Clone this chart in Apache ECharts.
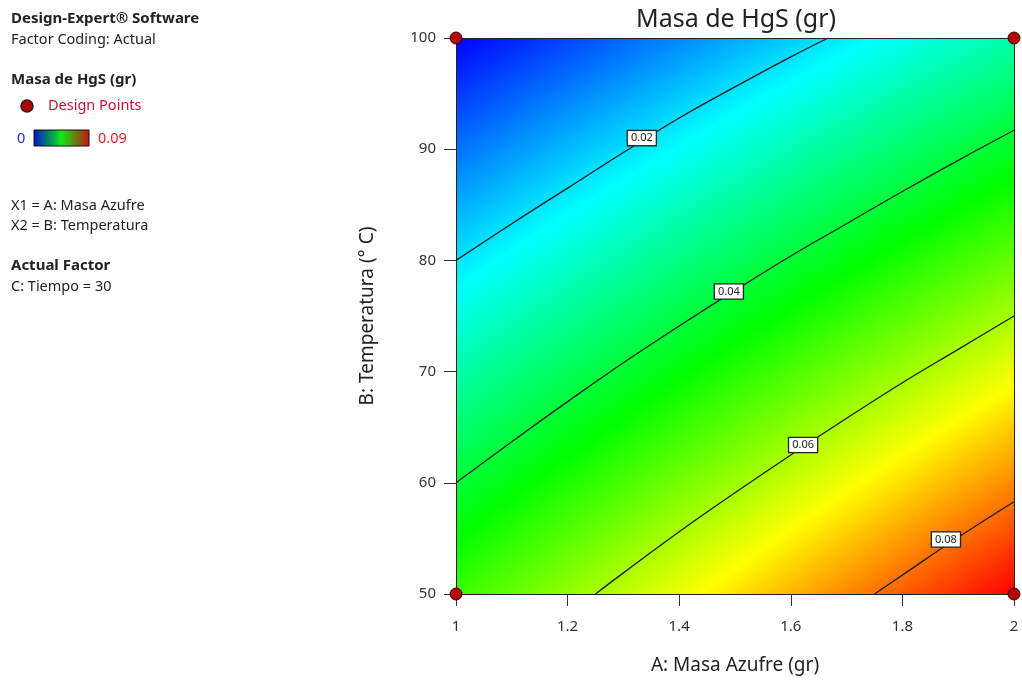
<!DOCTYPE html>
<html>
<head>
<meta charset="utf-8">
<script src="https://cdn.jsdelivr.net/npm/echarts@6/dist/echarts.min.js"></script>
<style>
html,body{margin:0;padding:0;background:#fff;}
#chart{width:1022px;height:681px;}
</style>
</head>
<body>
<div id="chart"></div>
<script>
// ---- data ----
const xNodes = [1, 1.1, 1.2, 1.3, 1.4, 1.5, 1.6, 1.7, 1.8, 1.9, 2];
const yNodes = [50, 55, 60, 65, 70, 75, 80, 85, 90, 95, 100];
// response (Masa de HgS, gr) at [yNodes[j]][xNodes[i]]
const z50  = [0.0500, 0.0540, 0.0580, 0.0620, 0.0660, 0.0700, 0.0740, 0.0780, 0.0820, 0.0860, 0.0900];
const z55  = [0.0450, 0.0489, 0.0528, 0.0567, 0.0606, 0.0645, 0.0684, 0.0723, 0.0762, 0.0801, 0.0840];
const z60  = [0.0400, 0.0438, 0.0476, 0.0514, 0.0552, 0.0590, 0.0628, 0.0666, 0.0704, 0.0742, 0.0780];
const z65  = [0.0350, 0.0387, 0.0424, 0.0461, 0.0498, 0.0535, 0.0572, 0.0609, 0.0646, 0.0683, 0.0720];
const z70  = [0.0300, 0.0336, 0.0372, 0.0408, 0.0444, 0.0480, 0.0516, 0.0552, 0.0588, 0.0624, 0.0660];
const z75  = [0.0250, 0.0285, 0.0320, 0.0355, 0.0390, 0.0425, 0.0460, 0.0495, 0.0530, 0.0565, 0.0600];
const z80  = [0.0200, 0.0234, 0.0268, 0.0302, 0.0336, 0.0370, 0.0404, 0.0438, 0.0472, 0.0506, 0.0540];
const z85  = [0.0150, 0.0183, 0.0216, 0.0249, 0.0282, 0.0315, 0.0348, 0.0381, 0.0414, 0.0447, 0.0480];
const z90  = [0.0100, 0.0132, 0.0164, 0.0196, 0.0228, 0.0260, 0.0292, 0.0324, 0.0356, 0.0388, 0.0420];
const z95  = [0.0050, 0.0081, 0.0112, 0.0143, 0.0174, 0.0205, 0.0236, 0.0267, 0.0298, 0.0329, 0.0360];
const z100 = [0.0000, 0.0030, 0.0060, 0.0090, 0.0120, 0.0150, 0.0180, 0.0210, 0.0240, 0.0270, 0.0300];
const zRows = [z50, z55, z60, z65, z70, z75, z80, z85, z90, z95, z100];

// contour lines
const c002 = [[1, 80], [1.1, 83.3], [1.2, 86.5], [1.3, 89.7], [1.4, 92.8], [1.5, 95.6], [1.6, 98.3], [1.667, 100]];
const c004 = [[1, 60], [1.1, 63.7], [1.2, 67.3], [1.3, 70.8], [1.4, 74.1], [1.5, 77.3], [1.6, 80.4], [1.7, 83.3], [1.8, 86.2], [1.9, 89.0], [2, 91.7]];
const c006 = [[1.25, 50], [1.3, 51.9], [1.4, 55.6], [1.5, 59.1], [1.6, 62.5], [1.7, 65.8], [1.8, 69.0], [1.9, 72.0], [2, 75.0]];
const c008 = [[1.75, 50], [1.8, 51.7], [1.9, 55.1], [2, 58.3]];
const contourLabels = [[1.333, 91.0, '0.02'], [1.489, 77.2, '0.04'], [1.622, 63.4, '0.06'], [1.878, 54.9, '0.08']];
const designPoints = [[1, 50], [2, 50], [1, 100], [2, 100]];
const xTicks = ['1', '1.2', '1.4', '1.6', '1.8', '2'];
const yTicks = ['50', '60', '70', '80', '90', '100'];

// colour ramp (style)
const ramp = [[0, [0, 0, 255]], [0.0225, [0, 255, 255]], [0.045, [0, 255, 0]], [0.0675, [255, 255, 0]], [0.09, [255, 0, 0]]];
function colorAt(v) {
  if (v <= ramp[0][0]) return 'rgb(' + ramp[0][1].join(',') + ')';
  for (let k = 1; k < ramp.length; k++) {
    if (v <= ramp[k][0]) {
      const t = (v - ramp[k - 1][0]) / (ramp[k][0] - ramp[k - 1][0]);
      const a = ramp[k - 1][1], b = ramp[k][1];
      return 'rgb(' + [0, 1, 2].map(c => Math.round(a[c] + (b[c] - a[c]) * t)).join(',') + ')';
    }
  }
  return 'rgb(' + ramp[ramp.length - 1][1].join(',') + ')';
}

const cells = [];
for (let j = 0; j < yNodes.length - 1; j++) {
  for (let i = 0; i < xNodes.length - 1; i++) {
    cells.push([xNodes[i], yNodes[j], xNodes[i + 1], yNodes[j + 1],
      zRows[j][i], zRows[j][i + 1], zRows[j + 1][i], zRows[j + 1][i + 1]]);
  }
}

function renderCell(params, api) {
  const p0 = api.coord([api.value(0), api.value(1)]);
  const p1 = api.coord([api.value(2), api.value(3)]);
  const f00 = api.value(4), f10 = api.value(5), f01 = api.value(6), f11 = api.value(7);
  const w = p1[0] - p0[0], h = p1[1] - p0[1];
  const gx = ((f10 - f00) + (f11 - f01)) / 2 / w;
  const gy = ((f01 - f00) + (f11 - f10)) / 2 / h;
  const fc = (f00 + f10 + f01 + f11) / 4;
  const cx = (p0[0] + p1[0]) / 2, cy = (p0[1] + p1[1]) / 2;
  const g = Math.hypot(gx, gy) || 1e-12;
  const dx = gx / g, dy = gy / g;
  const ext = Math.abs(w) / 2 * Math.abs(dx) + Math.abs(h) / 2 * Math.abs(dy);
  const vA = fc - g * ext, vB = fc + g * ext;
  const stops = [{offset: 0, color: colorAt(vA)}];
  ramp.forEach(r => {
    if (r[0] > vA && r[0] < vB) stops.push({offset: (r[0] - vA) / (vB - vA), color: colorAt(r[0])});
  });
  stops.push({offset: 1, color: colorAt(vB)});
  return {
    type: 'rect',
    shape: {x: Math.min(p0[0], p1[0]) - 0.5, y: Math.min(p0[1], p1[1]) - 0.5, width: Math.abs(w) + 1, height: Math.abs(h) + 1},
    style: {fill: new echarts.graphic.LinearGradient(cx - dx * ext, cy - dy * ext, cx + dx * ext, cy + dy * ext, stops, true)}
  };
}

const FONT = '"Noto Sans", "Open Sans", sans-serif';
const txt = '#222';
function T(x, y, s, opts) {
  return Object.assign({type: 'text', x: x, y: y, style: Object.assign({text: s, font: '14.5px ' + FONT, fill: txt, verticalAlign: 'middle'}, opts || {})});
}

const chart = echarts.init(document.getElementById('chart'), null, {renderer: 'canvas'});
const lineStyle = {color: '#1b1b1b', width: 1.3};
function contourSeries(d) {
  return {type: 'line', data: d, symbol: 'none', smooth: 0.4, lineStyle: lineStyle, z: 4, silent: true, animation: false};
}

chart.setOption({
  animation: false,
  textStyle: {fontFamily: FONT},
  title: {text: 'Masa de HgS (gr)', left: 731, top: 2, textAlign: 'center',
    textStyle: {fontSize: 25, fontWeight: 'normal', color: '#222', fontFamily: FONT}},
  grid: {left: 456, top: 38, width: 558, height: 556, show: false},
  xAxis: [{
    type: 'value', min: 1, max: 2, interval: 0.2, z: 10,
    name: 'A: Masa Azufre (gr)', nameLocation: 'middle', nameGap: 62,
    nameTextStyle: {fontSize: 19, color: '#222'},
    axisLine: {show: true, onZero: false, lineStyle: {color: '#222', width: 1}},
    axisTick: {show: true, length: 12, lineStyle: {color: '#333'}},
    axisLabel: {margin: 25, fontSize: 15, color: '#333', formatter: (v, i) => xTicks[i]},
    splitLine: {show: false}
  }, {
    type: 'value', min: 1, max: 2, position: 'top', z: 10,
    axisLine: {show: true, onZero: false, lineStyle: {color: '#222', width: 1}},
    axisTick: {show: false}, axisLabel: {show: false}, splitLine: {show: false}
  }],
  yAxis: [{
    type: 'value', min: 50, max: 100, interval: 10, z: 10,
    name: 'B: Temperatura (° C)', nameLocation: 'middle', nameGap: 79,
    nameTextStyle: {fontSize: 19, color: '#222'},
    axisLine: {show: true, onZero: false, lineStyle: {color: '#222', width: 1}},
    axisTick: {show: true, length: 12, lineStyle: {color: '#333'}},
    axisLabel: {margin: 20, fontSize: 15, color: '#333', padding: [0, 0, 6, 0], formatter: (v, i) => yTicks[i]},
    splitLine: {show: false}
  }, {
    type: 'value', min: 50, max: 100, position: 'right', z: 10,
    axisLine: {show: true, onZero: false, lineStyle: {color: '#222', width: 1}},
    axisTick: {show: false}, axisLabel: {show: false}, splitLine: {show: false}
  }],
  series: [
    {type: 'custom', renderItem: renderCell, data: cells, encode: {x: [0, 2], y: [1, 3]}, z: 1, silent: true, clip: true},
    contourSeries(c002), contourSeries(c004), contourSeries(c006), contourSeries(c008),
    {type: 'scatter', data: contourLabels, symbolSize: 1, z: 6, silent: true,
      itemStyle: {color: '#fff', opacity: 1},
      label: {show: true, position: 'inside', formatter: p => p.value[2], fontSize: 11, color: '#222', opacity: 1,
        backgroundColor: '#ffffff', borderColor: '#222', borderWidth: 1.3, padding: [2, 3, 1, 3], fontFamily: FONT}},
    {type: 'scatter', data: designPoints, symbolSize: 12, clip: false, z: 12, silent: true,
      itemStyle: {color: '#b40000', borderColor: '#3a0000', borderWidth: 1, opacity: 1}}
  ],
  graphic: [
    T(11, 19, 'Design-Expert® Software', {font: 'bold 15px ' + FONT}),
    T(11, 40, 'Factor Coding: Actual'),
    T(11, 80, 'Masa de HgS (gr)', {font: 'bold 15px ' + FONT}),
    {type: 'circle', shape: {cx: 27, cy: 106, r: 6}, style: {fill: '#b40000', stroke: '#222', lineWidth: 1.5}},
    T(48, 106, 'Design Points', {fill: '#c8102e'}),
    T(17, 139, '0', {fill: '#1f2fd0'}),
    {type: 'rect', shape: {x: 34, y: 130, width: 55, height: 16},
      style: {fill: new echarts.graphic.LinearGradient(0, 0, 1, 0, [{offset: 0, color: '#0010c8'}, {offset: 0.5, color: '#10e818'}, {offset: 1, color: '#c81010'}]), stroke: '#111', lineWidth: 1}},
    T(98, 139, '0.09', {fill: '#e02424'}),
    T(11, 206, 'X1 = A: Masa Azufre'),
    T(11, 226, 'X2 = B: Temperatura'),
    T(11, 266, 'Actual Factor', {font: 'bold 15px ' + FONT}),
    T(11, 287, 'C: Tiempo = 30')
  ]
});
</script>
</body>
</html>
